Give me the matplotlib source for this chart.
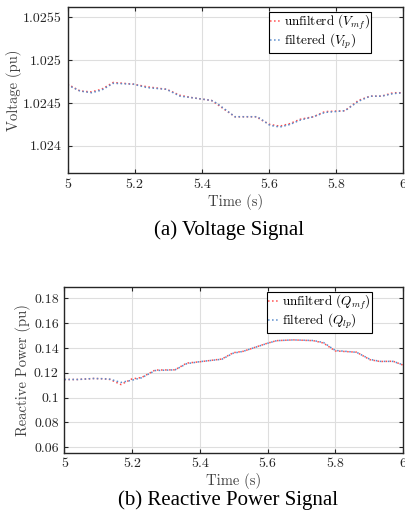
import numpy as np
import matplotlib
matplotlib.use("Agg")
import matplotlib.pyplot as plt
from matplotlib.ticker import FuncFormatter

plt.rcParams['mathtext.fontset'] = 'cm'
plt.rcParams['axes.formatter.use_mathtext'] = True

# voltage signal (pu)
t_v = [5.0, 5.037, 5.071, 5.101, 5.136, 5.196, 5.236, 5.295, 5.335, 5.375, 5.429, 5.444,
       5.499, 5.564, 5.574, 5.603, 5.633, 5.663, 5.693, 5.733, 5.767, 5.827, 5.867, 5.902,
       5.936, 5.971, 6.0]
v_mf = [1.02472, 1.02464, 1.02463, 1.02466, 1.02474, 1.02472, 1.02469, 1.02466, 1.02459, 1.02456,
        1.02453, 1.02449, 1.02434, 1.02434, 1.02431, 1.02425, 1.02423, 1.02426, 1.02431, 1.02434,
        1.02440, 1.02441, 1.02453, 1.02458, 1.02458, 1.02462, 1.02462]
v_lp = [1.02471, 1.02464, 1.02462, 1.02465, 1.02473, 1.02472, 1.02468, 1.02466, 1.02458, 1.02456,
        1.02453, 1.02450, 1.02434, 1.02434, 1.02432, 1.02424, 1.02422, 1.02425, 1.02430, 1.02434,
        1.02439, 1.02441, 1.02452, 1.02458, 1.02458, 1.02461, 1.02462]

# reactive power signal (pu)
t_q = [5.0, 5.04, 5.086, 5.115, 5.135, 5.167, 5.199, 5.228, 5.268, 5.327, 5.361, 5.401,
       5.465, 5.499, 5.528, 5.598, 5.627, 5.676, 5.735, 5.765, 5.8, 5.863, 5.903, 5.932,
       5.971, 6.0]
q_mf = [0.1146, 0.1146, 0.1154, 0.1152, 0.1146, 0.1105, 0.1150, 0.1162, 0.1222, 0.1224, 0.1278, 0.1289,
        0.1311, 0.1362, 0.1373, 0.1437, 0.1459, 0.1465, 0.1459, 0.1440, 0.1376, 0.1366, 0.1305, 0.1291,
        0.1293, 0.1262]
q_lp = [0.1146, 0.1146, 0.1154, 0.1152, 0.1148, 0.1122, 0.1140, 0.1160, 0.1218, 0.1224, 0.1273, 0.1290,
        0.1309, 0.1358, 0.1373, 0.1436, 0.1459, 0.1465, 0.1460, 0.1444, 0.1380, 0.1365, 0.1308, 0.1292,
        0.1292, 0.1264]

red = '#ff4d4d'
blue = '#5a8ccc'
dark = '#262626'
cm = 'cmr10'

fig = plt.figure(figsize=(4.05, 5.23), dpi=100)
ax1 = fig.add_axes([0.167, 0.6686, 0.828, 0.318])
ax2 = fig.add_axes([0.159, 0.1344, 0.836, 0.3163])


def style(ax, ylab, ylx, leg_labels, leg_anchor):
    ax.set_xlim(5, 6)
    ax.set_xticks([5, 5.2, 5.4, 5.6, 5.8, 6])
    ax.xaxis.set_major_formatter(FuncFormatter(lambda v, p: '%g' % round(v, 4)))
    ax.yaxis.set_major_formatter(FuncFormatter(lambda v, p: '%g' % round(v, 5)))
    ax.grid(True, color='#dedede', lw=0.8)
    ax.set_axisbelow(True)
    ax.tick_params(direction='in', top=True, right=True, length=3, width=0.8,
                   colors=dark, labelsize=10, pad=4)
    for lab in ax.get_xticklabels() + ax.get_yticklabels():
        lab.set_family(cm)
    for s in ax.spines.values():
        s.set_color(dark)
        s.set_linewidth(1.0)
    ax.set_xlabel('Time (s)', family=cm, fontsize=10.5, color='#404040')
    ax.xaxis.set_label_coords(0.5, -0.125)
    ax.set_ylabel(ylab, family=cm, fontsize=10.5, color='#404040')
    ax.yaxis.set_label_coords(ylx, 0.5)
    leg = ax.legend(leg_labels, loc='upper right', bbox_to_anchor=leg_anchor, borderaxespad=0,
                    prop={'family': cm, 'size': 9.5}, handlelength=0.9, handletextpad=0.15,
                    borderpad=0.1, labelspacing=0.0, fancybox=False, framealpha=1,
                    edgecolor='black')
    leg.get_frame().set_linewidth(0.8)


ax1.plot(t_v, v_mf, ':', color=red, lw=1.1)
ax1.plot(t_v, v_lp, ':', color=blue, lw=1.1)
ax1.set_ylim(1.02368, 1.02562)
ax1.set_yticks([1.024, 1.0245, 1.025, 1.0255])
style(ax1, 'Voltage (pu)', -0.135,
      [r'unfilterd ($V_{mf}$)', r'filtered ($V_{lp}$)'], (0.905, 0.972))

ax2.plot(t_q, q_mf, ':', color=red, lw=1.1)
ax2.plot(t_q, q_lp, ':', color=blue, lw=1.1)
ax2.set_ylim(0.0556, 0.1889)
ax2.set_yticks([0.06, 0.08, 0.1, 0.12, 0.14, 0.16, 0.18])
style(ax2, 'Reactive Power (pu)', -0.1,
      [r'unfilterd ($Q_{mf}$)', r'filtered ($Q_{lp}$)'], (0.908, 0.973))

fig.text(0.566, 0.560, '(a) Voltage Signal', family='Liberation Serif', fontsize=15,
         ha='center', va='center', color='black')
fig.text(0.563, 0.044, '(b) Reactive Power Signal', family='Liberation Serif', fontsize=15,
         ha='center', va='center', color='black')

fig.savefig('out.png', dpi=100)
